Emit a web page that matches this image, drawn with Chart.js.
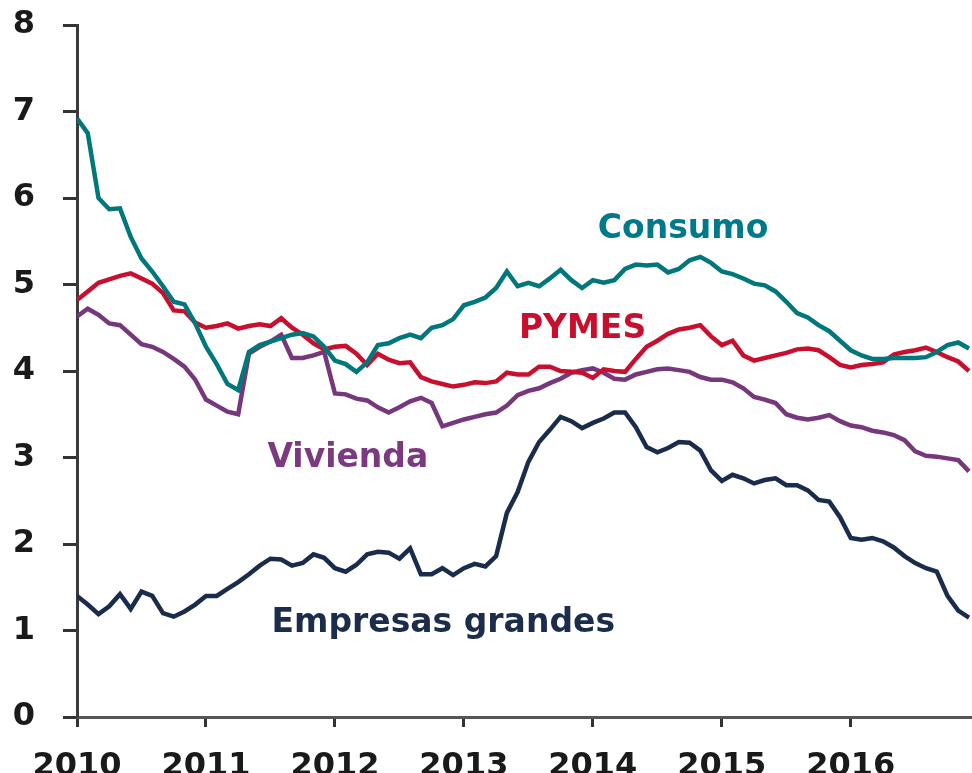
<!DOCTYPE html>
<html>
<head>
    <title>Tipos de interés por segmento</title>
    <script src="https://cdn.jsdelivr.net/npm/chart.js"></script>
    <style>
        html, body { margin: 0; padding: 0; background: #fff; }
    </style>
</head>
<body>
    <canvas id="ratesChart" width="972" height="773"></canvas>
    <script>
        // Monthly observations, Jan 2010 - Dec 2016
        const years = [2010, 2011, 2012, 2013, 2014, 2015, 2016];
        const yTicks = [0, 1, 2, 3, 4, 5, 6, 7, 8];

        const consumo = [
            6.92, 6.75, 6.00, 5.87, 5.88, 5.55, 5.30, 5.15, 4.98, 4.80, 4.77, 4.55,
            4.28, 4.08, 3.85, 3.78, 4.22, 4.30, 4.34, 4.38, 4.42, 4.44, 4.40, 4.28,
            4.12, 4.08, 3.99, 4.10, 4.30, 4.32, 4.38, 4.42, 4.38, 4.50, 4.53, 4.60,
            4.76, 4.80, 4.85, 4.96, 5.15, 4.98, 5.02, 4.98, 5.07, 5.17, 5.05, 4.96,
            5.05, 5.02, 5.05, 5.18, 5.23, 5.22, 5.23, 5.14, 5.18, 5.28, 5.32, 5.25,
            5.15, 5.12, 5.07, 5.01, 4.99, 4.92, 4.80, 4.67, 4.62, 4.53, 4.46, 4.35,
            4.24, 4.18, 4.14, 4.14, 4.15, 4.15, 4.15, 4.16, 4.22, 4.30, 4.33, 4.26
        ];
        const pymes = [
            4.82, 4.92, 5.02, 5.06, 5.10, 5.13, 5.07, 5.01, 4.90, 4.70, 4.69, 4.56,
            4.50, 4.52, 4.55, 4.49, 4.52, 4.54, 4.52, 4.61, 4.50, 4.42, 4.32, 4.25,
            4.28, 4.29, 4.20, 4.07, 4.20, 4.13, 4.09, 4.10, 3.93, 3.88, 3.85, 3.82,
            3.84, 3.87, 3.86, 3.88, 3.98, 3.96, 3.96, 4.05, 4.05, 4.00, 3.99, 3.98,
            3.92, 4.02, 4.00, 3.99, 4.14, 4.28, 4.35, 4.43, 4.48, 4.50, 4.53, 4.40,
            4.30, 4.35, 4.18, 4.12, 4.15, 4.18, 4.21, 4.25, 4.26, 4.24, 4.16, 4.07,
            4.04, 4.07, 4.08, 4.10, 4.19, 4.22, 4.24, 4.27, 4.22, 4.16, 4.11, 4.00
        ];
        const vivienda = [
            4.63, 4.72, 4.65, 4.55, 4.53, 4.42, 4.31, 4.28, 4.22, 4.14, 4.05, 3.90,
            3.67, 3.60, 3.53, 3.50, 4.20, 4.28, 4.34, 4.42, 4.15, 4.15, 4.18, 4.22,
            3.74, 3.73, 3.68, 3.66, 3.58, 3.52, 3.58, 3.65, 3.69, 3.63, 3.36, 3.40,
            3.44, 3.47, 3.50, 3.52, 3.60, 3.72, 3.77, 3.80, 3.86, 3.91, 3.98, 4.01,
            4.03, 3.98, 3.91, 3.90, 3.96, 3.99, 4.02, 4.03, 4.01, 3.99, 3.93, 3.90,
            3.90, 3.87, 3.80, 3.70, 3.67, 3.63, 3.50, 3.46, 3.44, 3.46, 3.49, 3.42,
            3.37, 3.35, 3.31, 3.29, 3.26, 3.20, 3.07, 3.02, 3.01, 2.99, 2.97, 2.84
        ];
        const grandes = [
            1.40, 1.30, 1.19, 1.28, 1.42, 1.25, 1.45, 1.40, 1.20, 1.16, 1.22, 1.30,
            1.40, 1.40, 1.48, 1.56, 1.65, 1.75, 1.83, 1.82, 1.75, 1.78, 1.88, 1.84,
            1.72, 1.68, 1.76, 1.88, 1.91, 1.90, 1.83, 1.95, 1.65, 1.65, 1.72, 1.64,
            1.72, 1.77, 1.74, 1.86, 2.36, 2.60, 2.95, 3.18, 3.32, 3.47, 3.42, 3.34,
            3.40, 3.45, 3.52, 3.52, 3.35, 3.12, 3.06, 3.11, 3.18, 3.17, 3.08, 2.85,
            2.73, 2.80, 2.76, 2.70, 2.74, 2.76, 2.68, 2.68, 2.62, 2.51, 2.49, 2.31,
            2.07, 2.05, 2.07, 2.03, 1.96, 1.86, 1.78, 1.72, 1.68, 1.40, 1.23, 1.15
        ];

        // x position of each monthly observation, in fractional years
        const dates = [];
        years.forEach(y => { for (let m = 0; m < 12; m++) dates.push(y + m / 12); });
        const toPoints = values => values.map((v, i) => ({ x: dates[i], y: v }));

        // in-chart series names (placed in data coordinates, baseline)
        const seriesNames = [
            { text: 'Consumo', x: 2014.70, y: 5.54, color: '#00798a' },
            { text: 'PYMES', x: 2013.92, y: 4.38, color: '#c8102e' },
            { text: 'Vivienda', x: 2012.10, y: 2.89, color: '#7b3a7f' },
            { text: 'Empresas grandes', x: 2012.84, y: 0.98, color: '#1c2d4c' }
        ];

        const seriesLabelsPlugin = {
            id: 'seriesLabels',
            afterDatasetsDraw(chart) {
                const ctx = chart.ctx;
                const xs = chart.scales.x, ys = chart.scales.y;
                ctx.save();
                ctx.font = 'bold 33px "DejaVu Sans"';
                ctx.textAlign = 'center';
                ctx.textBaseline = 'alphabetic';
                seriesNames.forEach(l => {
                    ctx.fillStyle = l.color;
                    ctx.fillText(l.text, xs.getPixelForValue(l.x), ys.getPixelForValue(l.y));
                });
                ctx.restore();
            }
        };

        const lineStyle = { borderWidth: 4.5, pointRadius: 0, tension: 0, fill: false };

        const ctx = document.getElementById('ratesChart').getContext('2d');
        const chart = new Chart(ctx, {
            type: 'line',
            data: {
                datasets: [
                    { label: 'Consumo', data: toPoints(consumo), borderColor: '#00777a', ...lineStyle },
                    { label: 'PYMES', data: toPoints(pymes), borderColor: '#c8102e', ...lineStyle },
                    { label: 'Vivienda', data: toPoints(vivienda), borderColor: '#76377c', ...lineStyle },
                    { label: 'Empresas grandes', data: toPoints(grandes), borderColor: '#1a2c4b', ...lineStyle }
                ]
            },
            options: {
                responsive: false,
                animation: false,
                layout: { padding: { top: 25, right: 0, left: 0, bottom: 0 } },
                plugins: {
                    legend: { display: false },
                    tooltip: { enabled: false }
                },
                scales: {
                    x: {
                        type: 'linear',
                        min: 2010,
                        max: 2016.94,
                        afterBuildTicks: scale => { scale.ticks = years.map(v => ({ value: v })); },
                        afterFit: scale => { scale.height = 56; },
                        border: { display: true, color: '#555', width: 3 },
                        grid: { display: true, drawOnChartArea: false, drawTicks: true, tickLength: 10, tickWidth: 3, tickColor: '#333' },
                        ticks: {
                            autoSkip: false,
                            maxRotation: 0,
                            padding: 20,
                            color: '#1a1a1a',
                            font: { family: 'DejaVu Sans', size: 32, weight: 'bold' },
                            callback: v => String(v)
                        }
                    },
                    y: {
                        min: 0,
                        max: 8,
                        afterBuildTicks: scale => { scale.ticks = yTicks.map(v => ({ value: v })); },
                        afterFit: scale => {
                            scale.width = 77;
                            scale.paddingTop = 0;
                            scale.paddingBottom = 0;
                        },
                        border: { display: true, color: '#3a3a3a', width: 3 },
                        grid: { display: true, drawOnChartArea: false, drawTicks: true, tickLength: 14, tickWidth: 3, tickColor: '#333' },
                        ticks: {
                            padding: 28,
                            color: '#1a1a1a',
                            font: { family: 'DejaVu Sans', size: 32, weight: 'bold' }
                        }
                    }
                }
            },
            plugins: [seriesLabelsPlugin]
        });
    </script>
</body>
</html>
